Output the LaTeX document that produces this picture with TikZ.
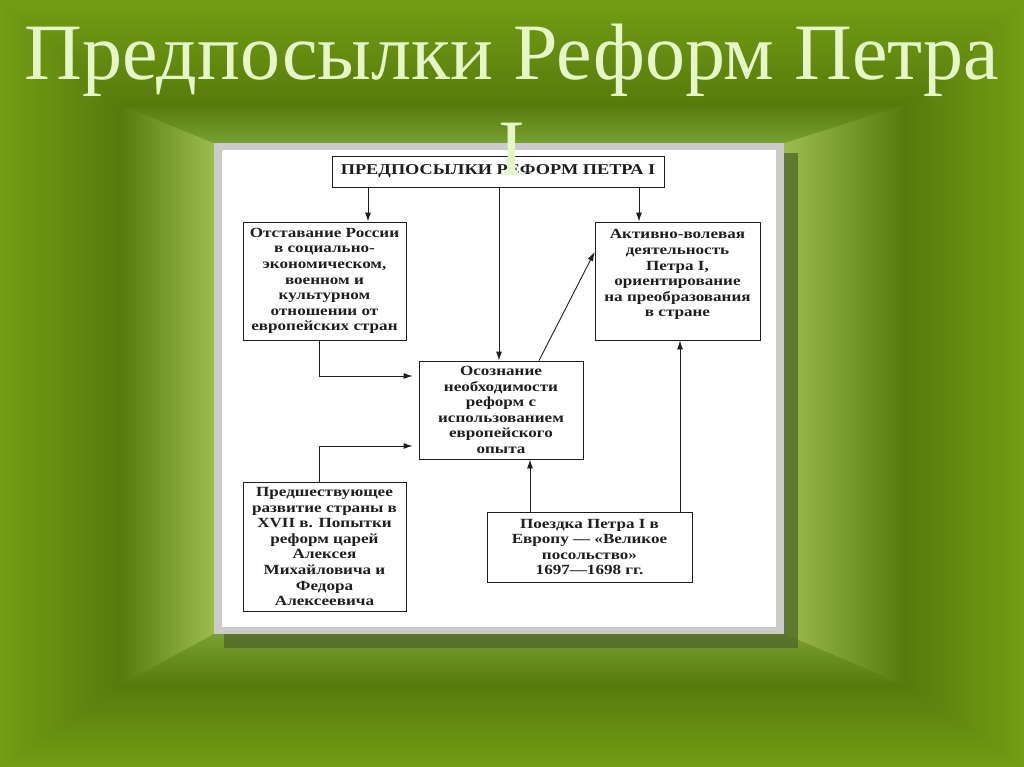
\documentclass[tikz,border=0pt]{standalone}
\usepackage{fontspec}
\setmainfont{Liberation Serif}
\newfontfamily\boxfont{Liberation Serif}[FakeStretch=1.22]
\usetikzlibrary{arrows.meta,calc}
\definecolor{gEdge}{RGB}{114,158,20}
\definecolor{gDark}{RGB}{88,122,12}
\definecolor{gMid}{RGB}{120,160,50}
\definecolor{gLight}{RGB}{156,188,80}
\definecolor{titlecol}{RGB}{230,246,200}
\definecolor{panelgray}{RGB}{202,202,202}
\definecolor{shadowcol}{RGB}{78,100,40}
\definecolor{ink}{RGB}{30,30,30}
\tikzset{
  box/.style={draw=ink, line width=0.9pt, fill=white, inner sep=0pt, align=center,
    font=\boxfont\bfseries\fontsize{14}{15.6}\selectfont, text=ink},
  arr/.style={draw=ink, line width=0.9pt, -{Latex[length=9pt,width=6pt]}},
  bigtitle/.style={text=titlecol, font=\fontsize{80}{96}\selectfont, inner sep=0pt, anchor=base}
}
\begin{document}
\begin{tikzpicture}[x=1pt,y=-1pt]
\useasboundingbox (0,0) rectangle (1024,767);
% background
\fill[gEdge] (0,0) rectangle (1024,767);
\begin{scope}\clip (0,0)--(120,105)--(120,685)--(0,767)--cycle;
  \shade[left color=gEdge,right color=gDark] (0,0) rectangle (120,767);\end{scope}
\begin{scope}\clip (1024,0)--(905,105)--(905,685)--(1024,767)--cycle;
  \shade[left color=gDark,right color=gEdge] (905,0) rectangle (1024,767);\end{scope}
\begin{scope}\clip (0,0)--(1024,0)--(905,105)--(120,105)--cycle;
  \shade[top color=gEdge,bottom color=gDark] (0,0) rectangle (1024,105);\end{scope}
\begin{scope}\clip (0,767)--(1024,767)--(905,685)--(120,685)--cycle;
  \shade[top color=gDark,bottom color=gEdge] (0,685) rectangle (1024,767);\end{scope}
\begin{scope}\clip (120,105)--(214,143)--(214,634)--(120,685)--cycle;
  \shade[left color=gDark,right color=gLight] (120,105) rectangle (214,685);\end{scope}
\begin{scope}\clip (905,105)--(784,143)--(784,634)--(905,685)--cycle;
  \shade[left color=gLight,right color=gDark] (784,105) rectangle (905,685);\end{scope}
\begin{scope}\clip (120,105)--(905,105)--(784,143)--(214,143)--cycle;
  \shade[top color=gDark,bottom color=gMid] (120,105) rectangle (905,143);\end{scope}
\begin{scope}\clip (214,634)--(784,634)--(905,685)--(120,685)--cycle;
  \shade[top color=gMid,bottom color=gDark] (120,634) rectangle (905,685);\end{scope}
% panel
\fill[shadowcol, opacity=0.75] (224,153) rectangle (798,648);
\fill[panelgray] (214,143) rectangle (784,634);
\fill[white] (222,150) rectangle (776,627);
% title line 1
\node[bigtitle] (title1) at (512,80) {Предпосылки Реформ Петра};
% boxes
\node[box, minimum width=332pt, minimum height=31pt, font=\boxfont\bfseries\fontsize{15}{16}\selectfont] (T) at (498,171.5) {ПРЕДПОСЫЛКИ РЕФОРМ ПЕТРА I};
\node[box, minimum width=163pt, minimum height=118pt] (L) at (324.5,281) {Отставание России\\в социально-\\экономическом,\\военном и\\культурном\\отношении от\\европейских стран};
\node[box, minimum width=165pt, minimum height=118pt] (R) at (677.5,281) {Активно-волевая\\деятельность\\Петра I,\\ориентирование\\на преобразования\\в стране\\\mbox{}};
\node[box, minimum width=164pt, minimum height=98pt] (M) at (501,410) {Осознание\\необходимости\\реформ с\\использованием\\европейского\\опыта};
\node[box, minimum width=163pt, minimum height=129pt] (LL) at (324.5,546.5) {Предшествующее\\развитие страны в\\XVII в. Попытки\\реформ царей\\Алексея\\Михайловича и\\Федора\\Алексеевича};
\node[box, minimum width=205pt, minimum height=70pt] (BR) at (589.5,547) {Поездка Петра I в\\Европу — «Великое\\посольство»\\1697—1698 гг.};
% connector guide coordinates
\coordinate (a1) at (368,0);
\coordinate (a2) at (639,0);
\coordinate (a3) at (499,0);
\coordinate (b1) at (319,376);
\coordinate (b2) at (319,446);
\coordinate (c1) at (530,0);
\coordinate (c2) at (680,0);
\coordinate (d1) at (539,0);
\coordinate (d2) at (0,252);
% connectors
\draw[arr] (T.south -| a1) -- (L.north -| a1);
\draw[arr] (T.south -| a2) -- (R.north -| a2);
\draw[arr] (T.south -| a3) -- (M.north -| a3);
\draw[arr, shorten >=6pt] (L.south -| b1) |- (M.west |- b1);
\draw[arr, shorten >=6pt] (LL.north -| b2) |- (M.west |- b2);
\draw[arr] (BR.north -| c1) -- (M.south -| c1);
\draw[arr] (BR.north -| c2) -- (R.south -| c2);
\draw[arr] (M.north -| d1) -- (R.west |- d2);
% title line 2
\node[bigtitle] (title2) at (512,176) {I};
\end{tikzpicture}
\end{document}
